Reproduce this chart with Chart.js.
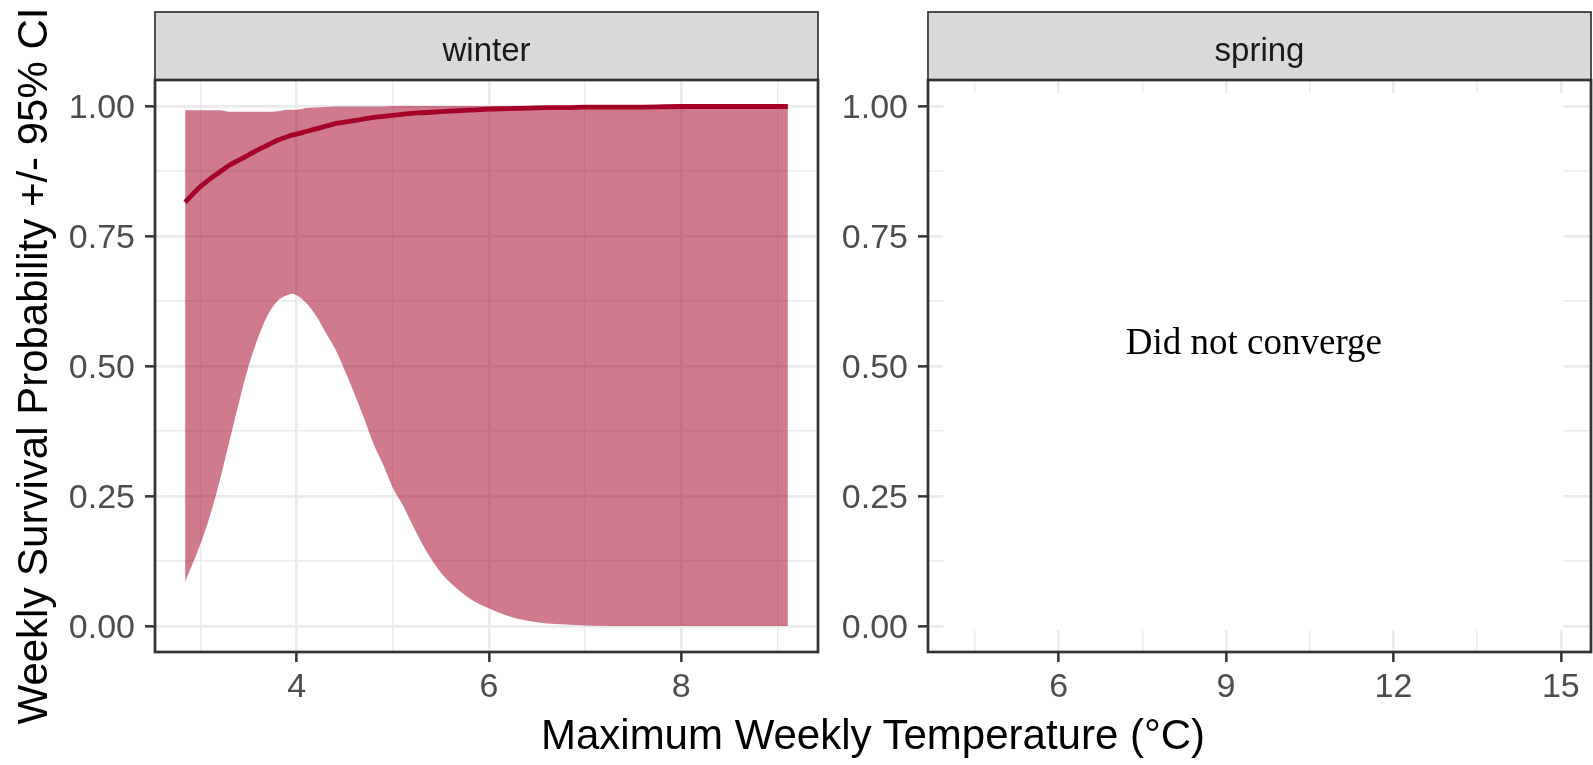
<!DOCTYPE html>
<html>
<head>
<meta charset="utf-8">
<script src="https://cdn.jsdelivr.net/npm/chart.js@4.4.1/dist/chart.umd.min.js"></script>
<style>
    body { margin: 0; background: #fff; width: 1593px; height: 765px; overflow: hidden; position: relative; }
    .painel { position: absolute; top: 0; }
    #boxWinter { left: 0; width: 830px; height: 765px; }
    #boxSpring { left: 840px; width: 753px; height: 765px; }
    #xTitle {
        position: absolute; left: 155px; width: 1436px; top: 714px;
        text-align: center; font: 42px/42px 'Liberation Sans', Arial, sans-serif; color: #000;
    }
</style>
</head>
<body>
<div class="painel" id="boxWinter"><canvas id="winterChart" width="830" height="765"></canvas></div>
<div class="painel" id="boxSpring"><canvas id="springChart" width="753" height="765"></canvas></div>
<div id="xTitle">Maximum Weekly Temperature (°C)</div>

<script>
// ==========================================
// dados (painel winter)
// ==========================================
const temperatura = [2.84, 3.0, 3.1, 3.2, 3.3, 3.4, 3.5, 3.6, 3.7, 3.8, 3.9, 3.95, 4.0, 4.1, 4.2, 4.3, 4.4, 4.5, 4.6, 4.7, 4.8,
    4.9, 5.0, 5.1, 5.2, 5.3, 5.4, 5.5, 5.6, 5.8, 6.0, 6.2, 6.4, 6.6, 6.8, 7.0, 7.5, 8.0, 8.5, 9.11];
const limiteInferior = [0.085, 0.158, 0.213, 0.280, 0.355, 0.430, 0.500, 0.555, 0.598, 0.625, 0.636, 0.639, 0.636, 0.621, 0.597,
    0.565, 0.533, 0.492, 0.447, 0.400, 0.350, 0.310, 0.266, 0.234, 0.196, 0.160, 0.129, 0.103, 0.083, 0.053, 0.034,
    0.019, 0.010, 0.005, 0.003, 0.001, 0, 0, 0, 0];
const limiteSuperior = [0.992, 0.992, 0.992, 0.992, 0.989, 0.989, 0.989, 0.989, 0.989, 0.990, 0.993, 0.993, 0.993, 0.996, 0.997,
    0.998, 0.999, 0.999, 0.999, 0.999, 0.999, 0.999, 1, 1, 1, 1, 1, 1, 1, 1, 1, 1, 1, 1, 1, 1, 1, 1, 1, 1];
const sobrevivencia = [0.815, 0.845, 0.860, 0.873, 0.886, 0.896, 0.906, 0.916, 0.925, 0.934, 0.941, 0.944, 0.946, 0.951, 0.956,
    0.961, 0.966, 0.969, 0.972, 0.975, 0.978, 0.980, 0.982, 0.984, 0.986, 0.987, 0.988, 0.989, 0.990, 0.992, 0.994,
    0.995, 0.996, 0.997, 0.997, 0.998, 0.998, 0.999, 0.999, 0.999];

// eixos
const yMajor = [0, 0.25, 0.5, 0.75, 1];
const yMinor = [0.125, 0.375, 0.625, 0.875];
const xMajorWinter = [4, 6, 8];
const xMinorWinter = [3, 5, 7, 9];
const xMajorSpring = [6, 9, 12, 15];
const xMinorSpring = [4.5, 7.5, 10.5, 13.5];

// painel spring: caixa branca + aviso
const springBoxX = [3.93, 15.05];
const springBoxY = [1.025, -0.008];
const avisoSpring = { text: 'Did not converge', x: 9.5, y: 0.523 };

const FONTE = "'Liberation Sans', Arial, sans-serif";
const CINZA_TEXTO = '#4D4D4D';
const STRIP_TOP = 12;

Chart.defaults.font.family = FONTE;

const pontos = arr => temperatura.map((t, i) => ({ x: t, y: arr[i] }));
const ehMajor = (lista, v) => lista.some(t => Math.abs(t - v) < 1e-9);

function gradeEixo(major) {
    return {
        color: '#EBEBEB',
        lineWidth: c => (c.tick && ehMajor(major, c.tick.value)) ? 2.7 : 1.4,
        tickColor: c => (c.tick && ehMajor(major, c.tick.value)) ? '#333333' : 'rgba(0,0,0,0)',
        tickWidth: 2.5,
        tickLength: 10
    };
}

function montarEscalas(xMin, xMax, xMajor, xMinor, larguraY, mostrarTituloY) {
    return {
        x: {
            type: 'linear', min: xMin, max: xMax,
            afterBuildTicks: s => { s.ticks = [...xMajor, ...xMinor].sort((a, b) => a - b).map(v => ({ value: v })); },
            afterFit: s => { s.height = 113; },
            grid: gradeEixo(xMajor),
            border: { display: false },
            ticks: {
                autoSkip: false, maxRotation: 0, padding: 5, color: CINZA_TEXTO,
                font: { size: 34 },
                callback: v => ehMajor(xMajor, v) ? String(v) : ''
            }
        },
        y: {
            type: 'linear', min: -0.05, max: 1.05,
            afterBuildTicks: s => { s.ticks = [...yMajor, ...yMinor].sort((a, b) => a - b).map(v => ({ value: v })); },
            afterFit: s => { s.width = larguraY; },
            grid: gradeEixo(yMajor),
            border: { display: false },
            title: {
                display: mostrarTituloY,
                text: 'Weekly Survival Probability +/- 95% CI',
                color: '#000', font: { size: 42 }, padding: { top: 10, bottom: 0 }
            },
            ticks: {
                autoSkip: false, padding: 10, labelOffset: 3, color: CINZA_TEXTO,
                font: { size: 34 },
                callback: v => ehMajor(yMajor, v) ? v.toFixed(2) : ''
            }
        }
    };
}

// faixa cinza do facet + borda do painel + texto opcional
function pluginFacet(rotulo, aviso) {
    return {
        id: 'facet_' + rotulo,
        afterDraw(chart) {
            const { ctx, chartArea: a } = chart;
            ctx.save();
            ctx.fillStyle = '#D9D9D9';
            ctx.fillRect(a.left, STRIP_TOP, a.right - a.left, a.top - STRIP_TOP);
            ctx.strokeStyle = '#333333';
            ctx.lineWidth = 1.7;
            ctx.strokeRect(a.left, STRIP_TOP, a.right - a.left, a.top - STRIP_TOP);
            ctx.fillStyle = '#1A1A1A';
            ctx.font = '33px ' + FONTE;
            ctx.textAlign = 'center';
            ctx.textBaseline = 'alphabetic';
            ctx.fillText(rotulo, (a.left + a.right) / 2, a.top - 19);

            ctx.lineWidth = 2.7;
            ctx.strokeRect(a.left, a.top, a.right - a.left, a.bottom - a.top);

            if (aviso) {
                ctx.fillStyle = '#000';
                ctx.font = "37px 'Liberation Serif', 'Times New Roman', serif";
                ctx.fillText(aviso.text, chart.scales.x.getPixelForValue(aviso.x), chart.scales.y.getPixelForValue(aviso.y));
            }
            ctx.restore();
        }
    };
}

const opcoesBase = escalas => ({
    responsive: false,
    animation: false,
    devicePixelRatio: 1,
    layout: { padding: { top: 80, left: 0, bottom: 0, right: 0 } },
    plugins: { legend: { display: false }, tooltip: { enabled: false } },
    scales: escalas
});

// ----- winter -----
const opWinter = opcoesBase(montarEscalas(2.5265, 9.4235, xMajorWinter, xMinorWinter, 155, true));
opWinter.layout.padding.right = 12;
new Chart(document.getElementById('winterChart'), {
    type: 'line',
    data: {
        datasets: [
            { data: pontos(sobrevivencia), borderColor: '#A50026', borderWidth: 4.8, pointRadius: 0, fill: false, cubicInterpolationMode: 'monotone' },
            { data: pontos(limiteSuperior), borderColor: 'transparent', borderWidth: 0, pointRadius: 0, fill: '+1',
              backgroundColor: 'rgba(165,0,38,0.52)', cubicInterpolationMode: 'monotone' },
            { data: pontos(limiteInferior), borderColor: 'transparent', borderWidth: 0, pointRadius: 0, fill: false, cubicInterpolationMode: 'monotone' }
        ]
    },
    options: opWinter,
    plugins: [pluginFacet('winter')]
});

// ----- spring -----
const opSpring = opcoesBase(montarEscalas(3.66, 15.54, xMajorSpring, xMinorSpring, 88, false));
opSpring.layout.padding.right = 2;
new Chart(document.getElementById('springChart'), {
    type: 'line',
    data: {
        datasets: [{
            data: springBoxX.map(x => ({ x, y: springBoxY[0] })),
            borderColor: 'transparent', borderWidth: 0, pointRadius: 0,
            fill: { value: springBoxY[1] }, backgroundColor: '#FFFFFF'
        }]
    },
    options: opSpring,
    plugins: [pluginFacet('spring', avisoSpring)]
});
</script>
</body>
</html>
